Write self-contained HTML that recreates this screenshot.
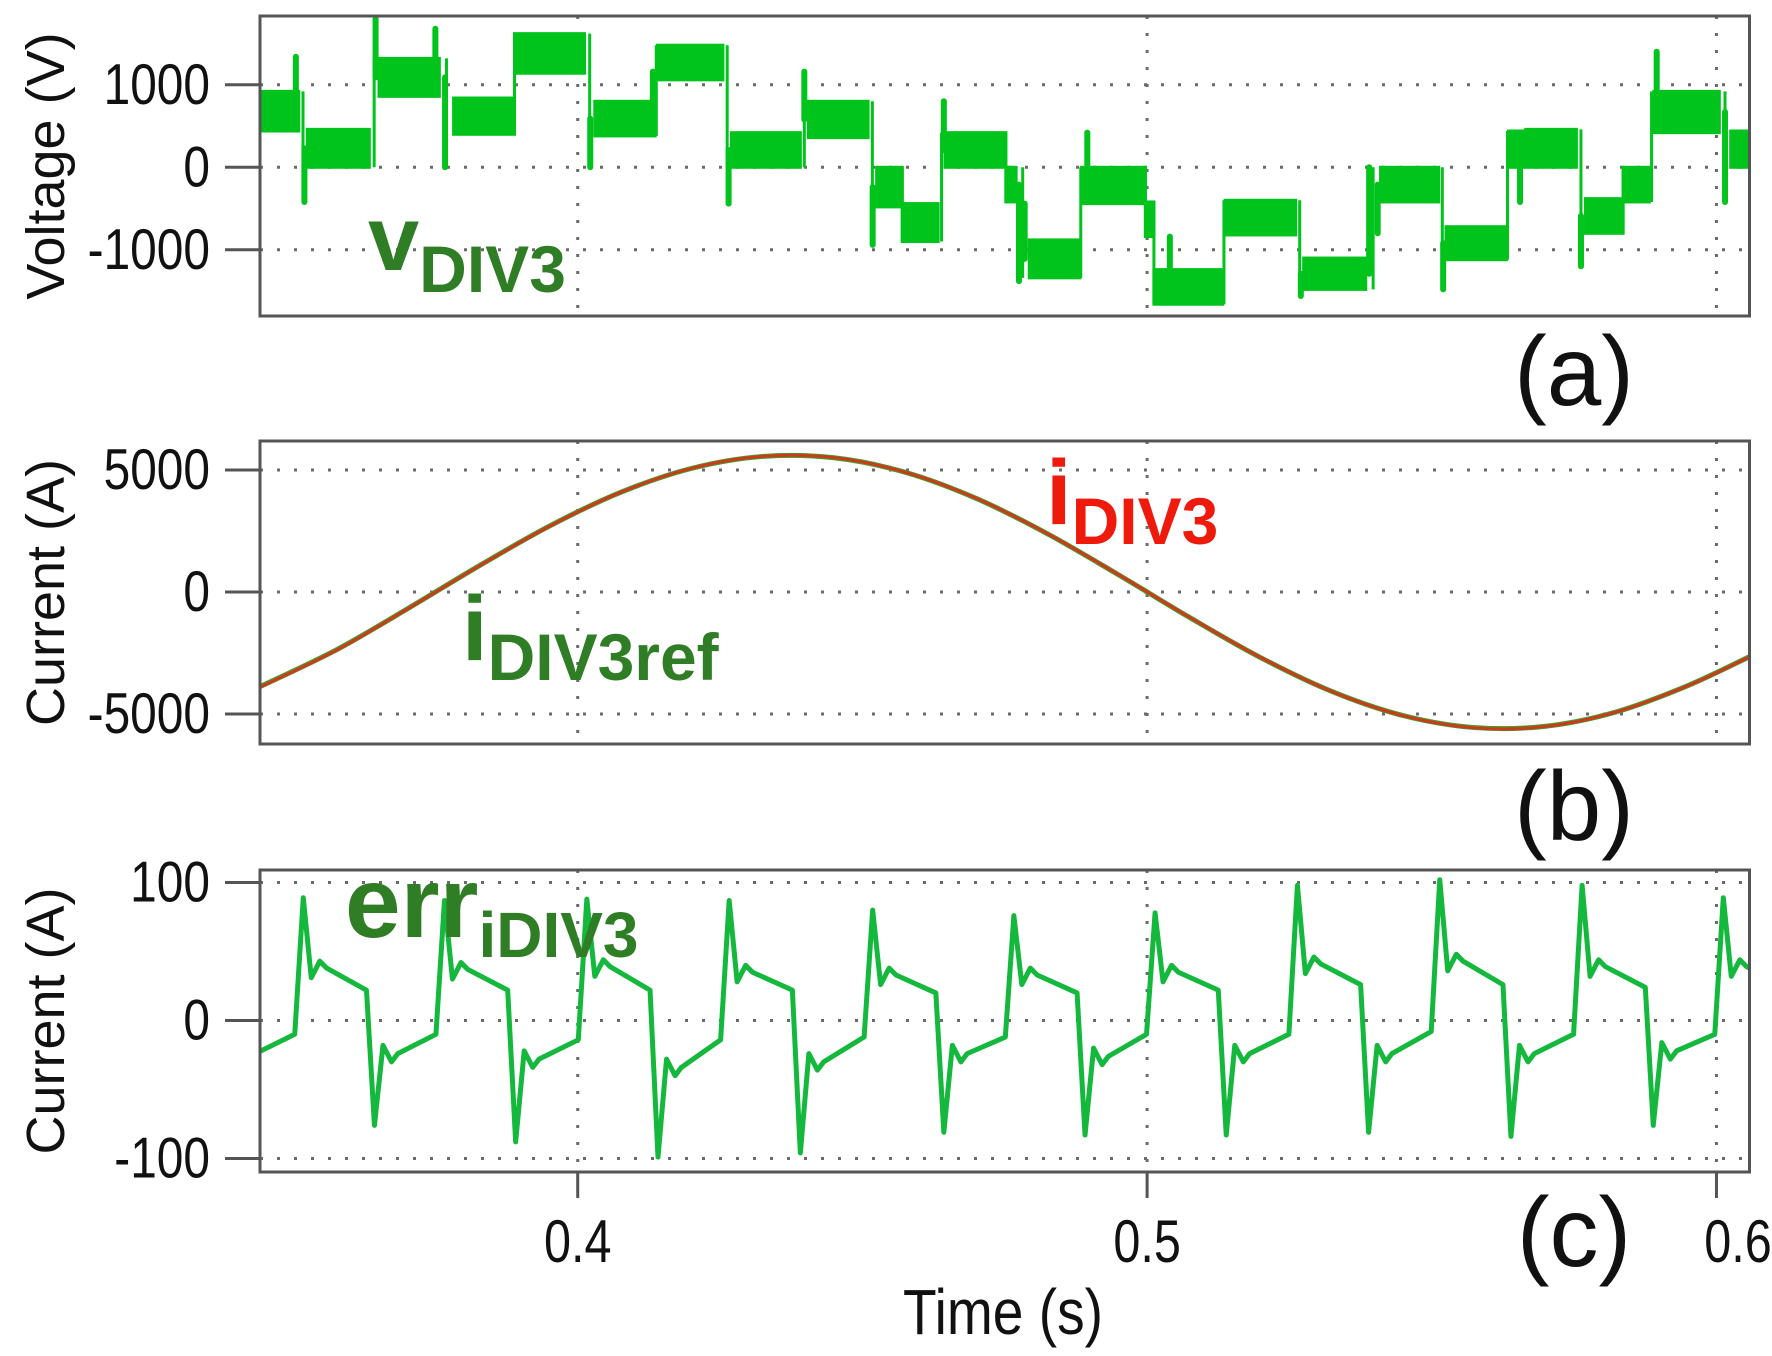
<!DOCTYPE html>
<html><head><meta charset="utf-8"><style>
html,body{margin:0;padding:0;background:#fff;}
svg{display:block;font-family:"Liberation Sans",sans-serif;}
</style></head><body>
<svg id="chart" width="1772" height="1356" viewBox="0 0 1772 1356" xmlns="http://www.w3.org/2000/svg">
<defs>
<clipPath id="clipA"><rect x="260" y="16" width="1490" height="300"/></clipPath>
<clipPath id="clipB"><rect x="260" y="441" width="1490" height="303"/></clipPath>
<clipPath id="clipC"><rect x="260" y="870" width="1490" height="302"/></clipPath>
</defs>
<g id="grid"></g>
<g id="marks"></g>
<g id="frames"></g>
<g id="labels"></g>
</svg>
<script>
// ---- time axis ----
const xTicks = [0.4, 0.5, 0.6];
const xTickLabels = ["0.4", "0.5", "0.6"];
// ---- panel (a) voltage ----
const aTicks = [1000, 0, -1000];
const aTickLabels = ["1000", "0", "-1000"];
const vStart = [0.3442,0.3525,0.3651,0.3782,0.3889,0.4030,0.4140,0.4270,0.4405,0.4525,0.4570,0.4645,0.4752,0.4793,0.4885,0.4997,0.5012,0.5137,0.5275,0.5410,0.5525,0.5635,0.5665,0.5770,0.5836,0.5890,0.6025];
const vEnd   = [0.3510,0.3634,0.3757,0.3889,0.4012,0.4136,0.4255,0.4391,0.4510,0.4570,0.4633,0.4752,0.4770,0.4882,0.4997,0.5012,0.5133,0.5261,0.5384,0.5512,0.5631,0.5660,0.5754,0.5836,0.5882,0.6005,0.6058];
const vLo    = [440,0,860,400,1140,380,1060,0,360,-480,-900,0,-420,-1340,-440,-840,-1660,-820,-1480,-420,-1120,0,0,-800,-420,420,0];
const vHi    = [920,460,1320,840,1620,800,1480,420,800,0,-440,420,0,-880,0,-420,-1240,-400,-1100,0,-720,440,460,-380,0,920,440];
const spT = [0.3505,0.3520,0.3645,0.3750,0.3767,0.4022,0.4132,0.4265,0.4398,0.4518,0.4643,0.4775,0.4785,0.4895,0.5040,0.5270,0.5390,0.5405,0.5520,0.5655,0.5762,0.5895,0.6015];
const spV = [1340,-420,1800,1680,0,0,1160,-440,1160,-940,800,-1380,-440,420,-840,-1560,0,-800,-1480,-420,-1200,1400,-420];
// ---- panel (b) current ----
const bTicks = [5000, 0, -5000];
const bTickLabels = ["5000", "0", "-5000"];
const iT = [0.3442,0.3575,0.3700,0.3825,0.3950,0.4075,0.4200,0.4325,0.4450,0.4575,0.4700,0.4825,0.4950,0.5075,0.5200,0.5325,0.5450,0.5575,0.5700,0.5825,0.5950,0.6058];
const iRef = [-3880,-2385,-702,1049,2698,4082,5067,5556,5501,4907,3833,2385,702,-1049,-2698,-4082,-5067,-5556,-5501,-4907,-3833,-2650];
const iMeas = [-3900,-2400,-710,1040,2690,4080,5070,5560,5510,4910,3840,2390,710,-1040,-2690,-4080,-5070,-5570,-5510,-4910,-3840,-2660];
// ---- panel (c) current error ----
const cTicks = [100, 0, -100];
const cTickLabels = ["100", "0", "-100"];
const upT = [0.3268,0.3518,0.3766,0.4016,0.4266,0.4518,0.4766,0.5014,0.5264,0.5514,0.5764,0.6012];
const upPk = [88,89,87,88,87,80,76,78,98,102,98,89];
const postUp = [43,43,42,44,40,38,38,40,46,48,44,44];
const preDown = [24,22,22,22,22,20,20,22,26,26,24,24];
const downPk = [-76,-76,-88,-99,-96,-81,-83,-83,-81,-84,-76,-80];
const postDown = [-30,-30,-34,-40,-36,-30,-32,-30,-30,-30,-28,-30];
const preUp = [-12,-10,-10,-14,-14,-12,-12,-10,-10,-8,-10,-10];

const NS = "http://www.w3.org/2000/svg";
const X0 = 260, X1 = 1749.5, T0 = 0.3442, T1 = 0.6058;
function xs(t){ return X0 + (t - T0) / (T1 - T0) * (X1 - X0); }
function yA(v){ return 167.3 - v * 0.0825; }
function yB(v){ return 592 - v * 0.0244; }
function yC(v){ return 1020.5 - v * 1.3795; }
function mk(tag, attrs, parent){
  const e = document.createElementNS(NS, tag);
  for (const k in attrs) e.setAttribute(k, attrs[k]);
  parent.appendChild(e);
  return e;
}
const grid = document.getElementById('grid');
const marks = document.getElementById('marks');
const frames = document.getElementById('frames');
const labels = document.getElementById('labels');

const panels = [
  {name:'voltage', top:16, bottom:316, y:yA, ticks:aTicks, tl:aTickLabels, title:'Voltage (V)', clip:'clipA', tag:'(a)', tagY:405},
  {name:'current', top:441, bottom:744, y:yB, ticks:bTicks, tl:bTickLabels, title:'Current (A)', clip:'clipB', tag:'(b)', tagY:840},
  {name:'error', top:870, bottom:1172, y:yC, ticks:cTicks, tl:cTickLabels, title:'Current (A)', clip:'clipC', tag:'(c)', tagY:1266}
];
panels.forEach(p => {
  xTicks.forEach(t => {
    const l = mk('line', {x1:xs(t), x2:xs(t), y1:p.top, y2:p.bottom, stroke:'#6a6a6a', 'stroke-width':3, 'stroke-dasharray':'3 14'}, grid);
    
    
  });
  p.ticks.forEach((v, i) => {
    const yy = p.y(v);
    const l = mk('line', {x1:X0, x2:X1, y1:yy, y2:yy, stroke:'#6a6a6a', 'stroke-width':3, 'stroke-dasharray':'3 14'}, grid);
    
    
    const tk = mk('line', {x1:225, x2:260, y1:yy, y2:yy, stroke:'#555', 'stroke-width':3}, frames);
    
    
    const tx = mk('text', {x:0, y:0, transform:'translate(210,' + (yy + 19) + ') scale(0.92,1.1)', 'text-anchor':'end', 'font-size':52, fill:'#111'}, labels);
    tx.textContent = p.tl[i];
    
    
  });
  const fr = mk('rect', {x:X0, y:p.top, width:X1 - X0, height:p.bottom - p.top, fill:'none', stroke:'#555', 'stroke-width':3}, frames);
  
  
  const cy = (p.top + p.bottom) / 2;
  const ti = mk('text', {x:0, y:0, transform:'translate(64,' + cy + ') rotate(-90)', 'text-anchor':'middle', 'font-size':54, fill:'#111'}, labels);
  ti.textContent = p.title;
  
  
  const tg = mk('text', {x:1574, y:p.tagY, 'text-anchor':'middle', 'font-size':98, fill:'#111'}, labels);
  tg.textContent = p.tag;
  
  
});

// x ticks under panel c
xTicks.forEach((t, i) => {
  const tk = mk('line', {x1:xs(t), x2:xs(t), y1:1172, y2:1198, stroke:'#555', 'stroke-width':3}, frames);
  
  
  const lx = i === 2 ? 1738 : xs(t);
  const tx = mk('text', {x:0, y:0, transform:'translate(' + lx + ',1262) scale(0.9,1.12)', 'text-anchor':'middle', 'font-size':54, fill:'#111'}, labels);
  tx.textContent = xTickLabels[i];
  
  
});
const xt = mk('text', {x:0, y:0, transform:'translate(1003,1334) scale(0.95,1.1)', 'text-anchor':'middle', 'font-size':58, fill:'#111'}, labels);
xt.textContent = 'Time (s)';



// ---- voltage marks ----
const gA = mk('g', {'clip-path':'url(#clipA)'}, marks);


const VG = '#00c41c';
function segAt(t){
  let best = 0, bd = 1e9;
  for (let i = 0; i < vStart.length; i++) {
    const d = t < vStart[i] ? vStart[i] - t : (t > vEnd[i] ? t - vEnd[i] : 0);
    if (d < bd) { bd = d; best = i; }
  }
  return best;
}
for (let i = 0; i < vStart.length; i++) {
  const r = mk('rect', {x:xs(vStart[i]), y:yA(vHi[i]), width:Math.max(1, xs(vEnd[i]) - xs(vStart[i])), height:yA(vLo[i]) - yA(vHi[i]), fill:VG, stroke:VG, 'stroke-width':3}, gA);
  
  
  if (i < vStart.length - 1) {
    const top = Math.max(vHi[i], vHi[i+1]) , bot = Math.min(vLo[i], vLo[i+1]);
    const xm = (xs(vEnd[i]) + xs(vStart[i+1])) / 2;
    const c = mk('line', {x1:xm, x2:xm, y1:yA(top), y2:yA(bot), stroke:VG, 'stroke-width':3}, gA);
    
    
  }
}
for (let k = 0; k < spT.length; k++) {
  const s = segAt(spT[k]);
  const base = (vLo[s] + vHi[s]) / 2;
  const l = mk('line', {x1:xs(spT[k]), x2:xs(spT[k]), y1:yA(base), y2:yA(spV[k]), stroke:VG, 'stroke-width':6, 'stroke-linecap':'round'}, gA);
  
  
}

// ---- current marks ----
function smoothPath(ts, vs, yf){
  const P = ts.map((t, i) => [xs(t), yf(vs[i])]);
  let d = 'M' + P[0][0] + ',' + P[0][1];
  for (let i = 0; i < P.length - 1; i++) {
    const p0 = P[Math.max(0, i-1)], p1 = P[i], p2 = P[i+1], p3 = P[Math.min(P.length-1, i+2)];
    const c1 = [p1[0] + (p2[0]-p0[0])/6, p1[1] + (p2[1]-p0[1])/6];
    const c2 = [p2[0] - (p3[0]-p1[0])/6, p2[1] - (p3[1]-p1[1])/6];
    d += ' C' + c1[0] + ',' + c1[1] + ' ' + c2[0] + ',' + c2[1] + ' ' + p2[0] + ',' + p2[1];
  }
  return d;
}
const gB = mk('g', {'clip-path':'url(#clipB)'}, marks);
const refLine = mk('path', {d:smoothPath(iT, iRef, yB), fill:'none', stroke:'#4a9a2a', 'stroke-width':5}, gB);


const measLine = mk('path', {d:smoothPath(iT, iMeas, yB), fill:'none', stroke:'#cc3a1e', 'stroke-width':3}, gB);



// ---- error marks ----
const gC = mk('g', {'clip-path':'url(#clipC)'}, marks);
const pts = [];
for (let k = 0; k < upT.length; k++) {
  const T = upT[k];
  pts.push([T - 0.0015, preUp[k]]);
  pts.push([T, upPk[k]]);
  pts.push([T + 0.0014, postUp[k] - 12]);
  pts.push([T + 0.0029, postUp[k]]);
  pts.push([T + 0.0041, postUp[k] - 5]);
  pts.push([T + 0.0111, preDown[k]]);
  pts.push([T + 0.0125, downPk[k]]);
  pts.push([T + 0.0140, postDown[k] + 12]);
  pts.push([T + 0.0155, postDown[k]]);
  pts.push([T + 0.0166, postDown[k] + 6]);
}
const errLine = mk('polyline', {points:pts.map(p => xs(p[0]) + ',' + yC(p[1])).join(' '), fill:'none', stroke:'#14b83c', 'stroke-width':5, 'stroke-linejoin':'round'}, gC);


</script>
<svg style="position:absolute;left:0;top:0" width="1772" height="1356">
<text x="368" y="270" font-family="Liberation Sans, sans-serif" font-weight="bold" font-size="92" fill="#2f7d25">v<tspan font-size="66" dy="22">DIV3</tspan></text>
<text x="1046" y="524" font-family="Liberation Sans, sans-serif" font-weight="bold" font-size="92" fill="#ee1a0c">i<tspan font-size="66" dy="20">DIV3</tspan></text>
<text x="462" y="660" font-family="Liberation Sans, sans-serif" font-weight="bold" font-size="92" fill="#2f7d25">i<tspan font-size="66" dy="20">DIV3ref</tspan></text>
<text x="345" y="937" font-family="Liberation Sans, sans-serif" font-weight="bold" font-size="100" fill="#2f7d25">err<tspan font-size="64" dy="20">iDIV3</tspan></text>
</svg>
</body></html>
